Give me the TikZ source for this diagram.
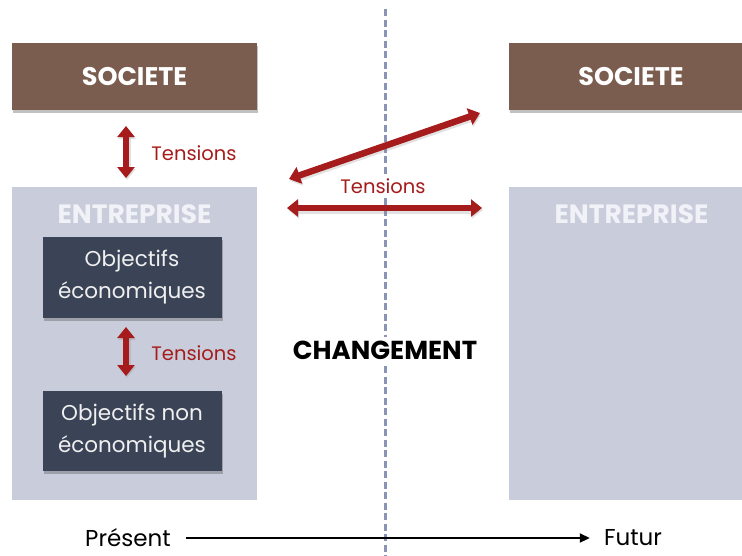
\documentclass[tikz,border=0pt]{standalone}
\usepackage{fontspec}
\setmainfont{Poppins}
\usetikzlibrary{arrows.meta,shadows}
\definecolor{brownbox}{HTML}{7B5D4F}
\definecolor{lightbox}{HTML}{C9CDDB}
\definecolor{lighttext}{HTML}{F1F2F7}
\definecolor{darkbox}{HTML}{3A4456}
\definecolor{tensred}{HTML}{A61C1C}
\definecolor{dashcol}{HTML}{8A95B4}
\tikzset{
  boxshadow/.style={drop shadow={shadow xshift=1.2pt, shadow yshift=-2.5pt, opacity=0.35, fill=black!70}},
  socbox/.style={fill=brownbox, minimum width=245pt, minimum height=67pt, inner sep=0pt, text=white,
    font=\fontsize{25.5}{28}\selectfont\bfseries, boxshadow},
  entbox/.style={fill=lightbox, minimum width=245pt, minimum height=313pt, inner sep=0pt},
  enttext/.style={text=lighttext, font=\fontsize{26.5}{28}\selectfont\bfseries, inner sep=0pt},
  objbox/.style={fill=darkbox, minimum width=179pt, minimum height=81pt, inner sep=0pt, text=white!94!black,
    align=center, font=\fontsize{21.5}{32}\selectfont, boxshadow},
  tenslabel/.style={text=tensred, font=\fontsize{19.5}{22}\selectfont, inner sep=1pt},
  tensarrow/.style={draw=tensred, line width=6.5pt,
    {Triangle[width=17pt,length=11pt]}-{Triangle[width=17pt,length=11pt]},
    preaction={draw=black!45, opacity=0.25, line width=7pt, transform canvas={xshift=1pt,yshift=-2pt}}},
  timetext/.style={font=\fontsize{23}{26}\selectfont, text=black, inner sep=0pt},
  dashline/.style={draw=dashcol, line width=3pt, dash pattern=on 7pt off 3.5pt}
}
\begin{document}
\begin{tikzpicture}[x=1pt,y=-1pt]
\useasboundingbox (0,0) rectangle (742,555);

% dashed separator
\coordinate (dtop) at (385,9);
\coordinate (dbot) at (385,560);
\draw[dashline] (dtop) -- (dbot);

% boxes
\node[socbox] (socL) at (134.5,76.5) {SOCIETE};
\node[socbox] (socR) at (631,76.5) {SOCIETE};
\node[entbox] (entL) at (134.5,343.5) {};
\node[entbox] (entR) at (631.5,343.5) {};
\node[enttext] (entLt) at (134.5,214) {ENTREPRISE};
\node[enttext] (entRt) at (631.5,214) {ENTREPRISE};
\node[objbox] (obj1) at (132,277.5) {Objectifs\\économiques};
\node[objbox, minimum height=80pt] (obj2) at (132,431) {Objectifs non\\économiques};

% tensions arrows
\coordinate (a1s) at (126,126);
\coordinate (a1e) at (126,178);
\coordinate (a2s) at (126,327);
\coordinate (a2e) at (126,376);
\coordinate (d1) at (289,179);
\coordinate (d2) at (480,113);
\coordinate (h1) at (287,208);
\coordinate (h2) at (482,208);

\node[tenslabel] (t1) at (194,153) {Tensions};
\node[tenslabel] (t2) at (194,353) {Tensions};
\node[tenslabel, fill=white] (t3) at (383,186) {Tensions};

\draw[tensarrow] (a1s) -- (a1e);
\draw[tensarrow] (a2s) -- (a2e);
\draw[tensarrow] (d1) -- (d2);
\draw[tensarrow] (h1) -- (h2);

% changement
\node[fill=white, inner xsep=2pt, inner ysep=4pt, font=\fontsize{26}{28}\selectfont\bfseries] (chg) at (385,350) {CHANGEMENT};

% time axis
\node[timetext] (pres) at (128,538) {Présent};
\node[timetext] (fut) at (633,538) {Futur};
\draw[line width=1.8pt, -{Triangle[width=9pt,length=10pt]}] ([xshift=15pt]pres.east) -- ([xshift=-14pt]fut.west);
\end{tikzpicture}
\end{document}
